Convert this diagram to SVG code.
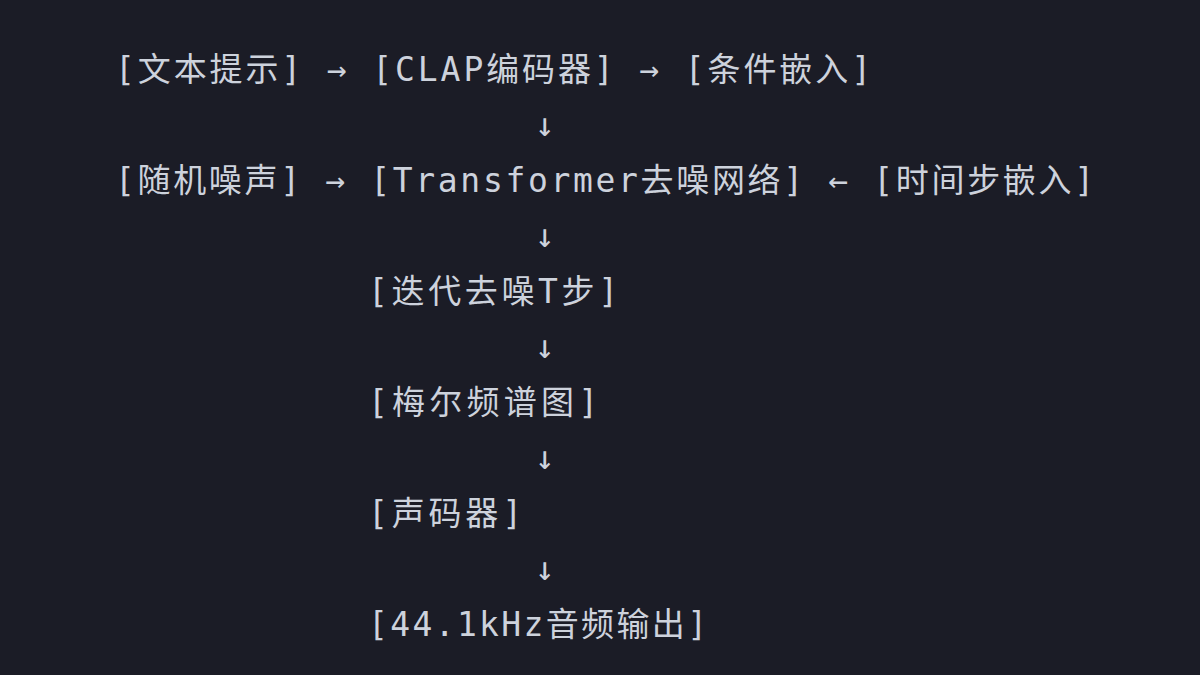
<svg xmlns="http://www.w3.org/2000/svg" width="1200" height="675" viewBox="0 0 1200 675">
<style>
text{font-family:"DejaVu Sans Mono","Noto Sans CJK SC",monospace;font-size:33px;fill:#cdd2dc}
.a{text-anchor:middle}
</style>
<rect width="1200" height="675" fill="#1b1c26"/>
<g id="row1"><text x="115" y="81" textLength="756" lengthAdjust="spacing">[文本提示] → [CLAP编码器] → [条件嵌入]</text></g>
<g id="row2"><text x="115" y="192" textLength="979" lengthAdjust="spacing">[随机噪声] → [Transformer去噪网络] ← [时间步嵌入]</text></g>
<g id="n3"><text x="368" y="303" textLength="250" lengthAdjust="spacing">[迭代去噪T步]</text></g>
<g id="n4"><text x="368" y="414" textLength="230" lengthAdjust="spacing">[梅尔频谱图]</text></g>
<g id="n5"><text x="368" y="525" textLength="154" lengthAdjust="spacing">[声码器]</text></g>
<g id="n6"><text x="368" y="636" textLength="339" lengthAdjust="spacing">[44.1kHz音频输出]</text></g>
<g id="connectors">
<text class="a" x="545" y="136">↓</text>
<text class="a" x="545" y="247">↓</text>
<text class="a" x="545" y="358">↓</text>
<text class="a" x="545" y="469">↓</text>
<text class="a" x="545" y="580">↓</text>
</g>
</svg>
